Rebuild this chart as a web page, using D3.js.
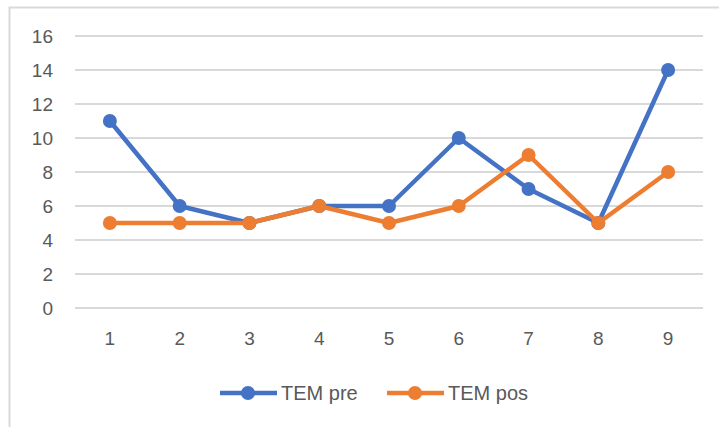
<!DOCTYPE html>
<html>
<head>
<meta charset="utf-8">
<script src="https://cdn.jsdelivr.net/npm/d3@7"></script>
<style>
  body { margin: 0; background: #fff; }
  text { font-family: "Liberation Sans", Arial, sans-serif; fill: #595959; }
</style>
</head>
<body>
<script>
// chart data
var categories = ['1', '2', '3', '4', '5', '6', '7', '8', '9'];
var temPre = [11, 6, 5, 6, 6, 10, 7, 5, 14];
var temPos = [5, 5, 5, 6, 5, 6, 9, 5, 8];
var yTicks = [0, 2, 4, 6, 8, 10, 12, 14, 16];
var seriesNames = ['TEM pre', 'TEM pos'];
var seriesColors = ['#4472C4', '#ED7D31'];

var W = 719, H = 427;
var margin = {left: 75, right: 16, top: 36, bottom: 119};
var fontStack = '"Liberation Sans", Arial, sans-serif';

var svg = d3.select('body').append('svg').attr('width', W).attr('height', H);

// outer chart frame (open at right/bottom like the crop)
svg.append('path')
  .attr('d', 'M9.5,' + H + 'V7.5H' + W)
  .attr('fill', 'none').attr('stroke', '#D9D9D9').attr('stroke-width', 2);

var x = d3.scaleBand().domain(categories).range([margin.left, W - margin.right]);
var y = d3.scaleLinear().domain([0, 16]).range([H - margin.bottom, margin.top]);

// gridlines
svg.append('g').selectAll('line').data(yTicks).enter().append('line')
  .attr('x1', margin.left).attr('x2', W - margin.right)
  .attr('y1', function(d) { return y(d); }).attr('y2', function(d) { return y(d); })
  .attr('stroke', '#D9D9D9').attr('stroke-width', 2);

// y axis labels
var yAxis = svg.append('g').attr('transform', 'translate(' + (margin.left - 22) + ',0)')
  .call(d3.axisLeft(y).tickValues(yTicks).tickSize(0).tickPadding(0));
yAxis.select('.domain').remove();
yAxis.selectAll('text').style('font-size', '19px').attr('fill', '#595959')
  .style('font-family', fontStack);

// x axis labels
var xAxis = svg.append('g').attr('transform', 'translate(0,' + (H - margin.bottom + 23) + ')')
  .call(d3.axisBottom(x).tickSize(0).tickPadding(0));
xAxis.select('.domain').remove();
xAxis.selectAll('text').style('font-size', '19px').attr('fill', '#595959')
  .style('font-family', fontStack);

var cx = function(d, i) { return x(categories[i]) + x.bandwidth() / 2; };
var line = d3.line().x(cx).y(function(d) { return y(d); });

[temPre, temPos].forEach(function(vals, s) {
  var g = svg.append('g');
  g.append('path').datum(vals).attr('d', line)
    .attr('fill', 'none').attr('stroke', seriesColors[s])
    .attr('stroke-width', 4.5).attr('stroke-linejoin', 'round');
  g.selectAll('circle').data(vals).enter().append('circle')
    .attr('cx', cx).attr('cy', function(d) { return y(d); })
    .attr('r', 7).attr('fill', seriesColors[s]);
});

// legend
var legendX = [220, 387];
var legend = svg.append('g').selectAll('g').data(seriesNames).enter().append('g')
  .attr('transform', function(d, i) { return 'translate(' + legendX[i] + ',393)'; });
legend.append('line').attr('x1', 0).attr('x2', 57).attr('y1', 0).attr('y2', 0)
  .attr('stroke', function(d, i) { return seriesColors[i]; }).attr('stroke-width', 4.5);
legend.append('circle').attr('cx', 28).attr('cy', 0).attr('r', 7)
  .attr('fill', function(d, i) { return seriesColors[i]; });
legend.append('text').attr('x', 61).attr('y', 7).style('font-size', '20px')
  .text(function(d) { return d; });
</script>
</body>
</html>
